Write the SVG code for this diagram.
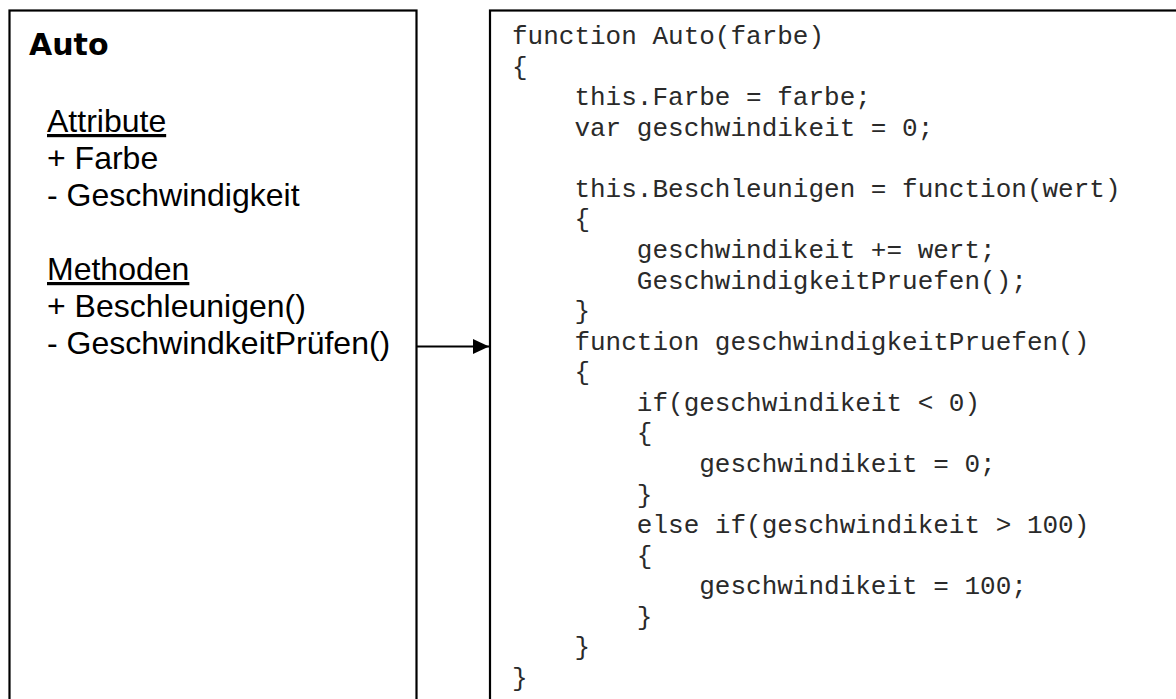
<svg xmlns="http://www.w3.org/2000/svg" width="1176" height="699" viewBox="0 0 1176 699">
  <style>
    .box { fill: #ffffff; stroke: #000000; stroke-width: 2.2; }
    .title { font-family: "DejaVu Sans", "Liberation Sans", sans-serif; font-weight: bold; font-size: 30px; fill: #000; }
    .uml { font-family: "Liberation Sans", Arial, sans-serif; font-size: 32px; fill: #000; }
    .head { text-decoration: underline; }
    .code { font-family: "Liberation Mono", "Courier New", monospace; font-size: 26px; fill: #2a2a2a; white-space: pre; }
    .conn { stroke: #000; stroke-width: 2; fill: none; }
  </style>
  <defs>
    <marker id="arrow" viewBox="0 0 16 15" refX="16" refY="7.5" markerWidth="16" markerHeight="15" markerUnits="userSpaceOnUse" orient="auto">
      <path d="M0,0 L16,7.5 L0,15 Z" fill="#000"/>
    </marker>
  </defs>
  <rect width="1176" height="699" fill="#ffffff"/>

  <!-- UML class box -->
  <g id="auto-class">
    <rect class="box" x="9.5" y="10.5" width="407" height="740"/>
    <text class="title" x="29" y="55">Auto</text>
    <text class="uml head" x="47" y="132">Attribute</text>
    <text class="uml" x="47" y="169">+ Farbe</text>
    <text class="uml" x="47" y="206">- Geschwindigkeit</text>
    <text class="uml head" x="47" y="280">Methoden</text>
    <text class="uml" x="47" y="317">+ Beschleunigen()</text>
    <text class="uml" x="47" y="354">- GeschwindkeitPrüfen()</text>
  </g>

  <!-- JavaScript implementation -->
  <g id="auto-code">
    <rect class="box" x="490" y="10.5" width="720" height="740"/>
    <text class="code" x="512" y="44" xml:space="preserve">function Auto(farbe)</text>
    <text class="code" x="512" y="74.6" xml:space="preserve">{</text>
    <text class="code" x="512" y="105.1" xml:space="preserve">    this.Farbe = farbe;</text>
    <text class="code" x="512" y="135.7" xml:space="preserve">    var geschwindikeit = 0;</text>
    <text class="code" x="512" y="196.9" xml:space="preserve">    this.Beschleunigen = function(wert)</text>
    <text class="code" x="512" y="227.4" xml:space="preserve">    {</text>
    <text class="code" x="512" y="258" xml:space="preserve">        geschwindikeit += wert;</text>
    <text class="code" x="512" y="288.6" xml:space="preserve">        GeschwindigkeitPruefen();</text>
    <text class="code" x="512" y="319.1" xml:space="preserve">    }</text>
    <text class="code" x="512" y="349.7" xml:space="preserve">    function geschwindigkeitPruefen()</text>
    <text class="code" x="512" y="380.3" xml:space="preserve">    {</text>
    <text class="code" x="512" y="410.8" xml:space="preserve">        if(geschwindikeit &lt; 0)</text>
    <text class="code" x="512" y="441.4" xml:space="preserve">        {</text>
    <text class="code" x="512" y="472" xml:space="preserve">            geschwindikeit = 0;</text>
    <text class="code" x="512" y="502.5" xml:space="preserve">        }</text>
    <text class="code" x="512" y="533.1" xml:space="preserve">        else if(geschwindikeit &gt; 100)</text>
    <text class="code" x="512" y="563.7" xml:space="preserve">        {</text>
    <text class="code" x="512" y="594.2" xml:space="preserve">            geschwindikeit = 100;</text>
    <text class="code" x="512" y="624.8" xml:space="preserve">        }</text>
    <text class="code" x="512" y="655.4" xml:space="preserve">    }</text>
    <text class="code" x="512" y="685.9" xml:space="preserve">}</text>
  </g>

  <!-- connectors -->
  <g id="connectors">
    <line class="conn" x1="417" y1="346.5" x2="489" y2="346.5" marker-end="url(#arrow)"/>
  </g>
</svg>
